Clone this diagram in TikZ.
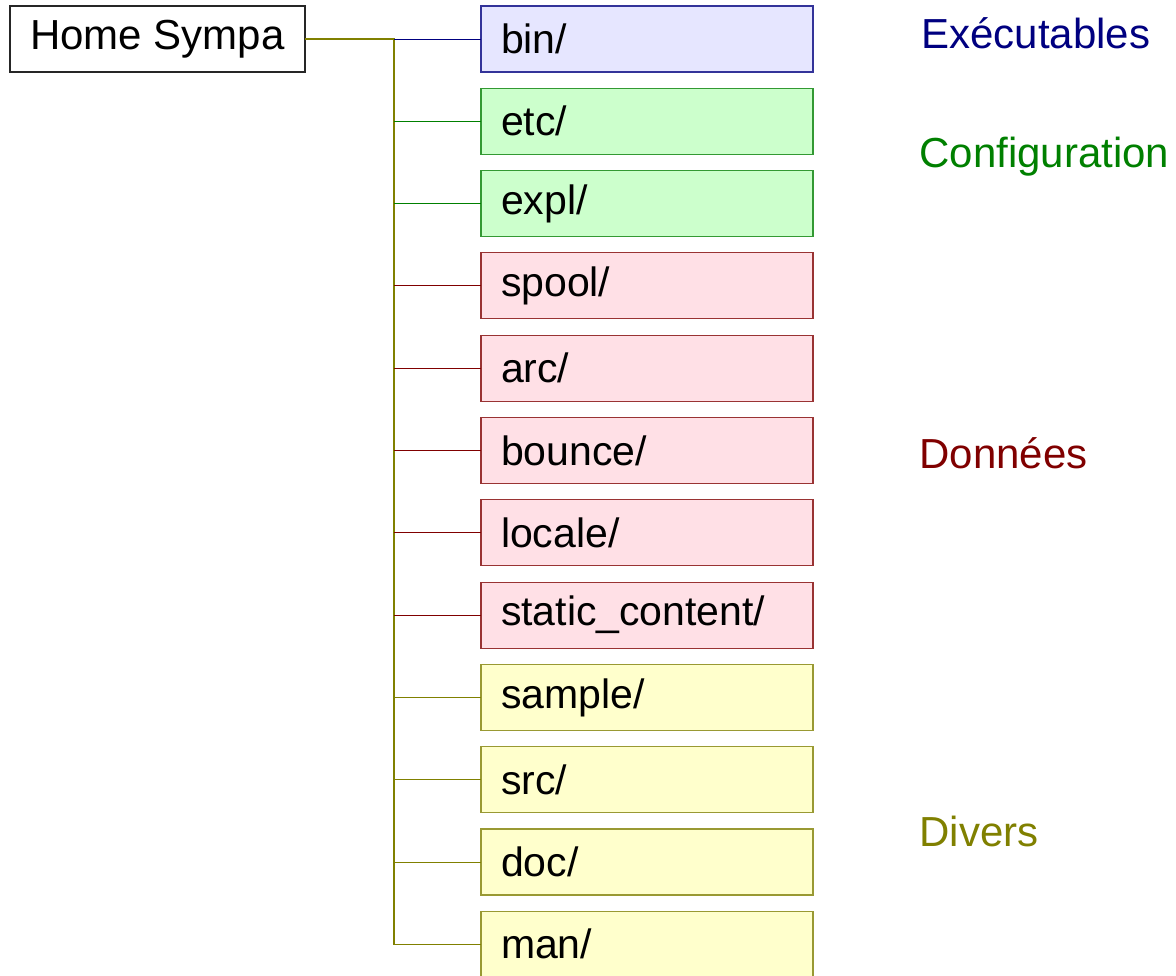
\documentclass[tikz,border=0pt]{standalone}
\usepackage{fontspec}
\setmainfont{Liberation Sans}
\usetikzlibrary{positioning}

\definecolor{bleu}{HTML}{000080}
\definecolor{vert}{HTML}{008000}
\definecolor{rouge}{HTML}{800000}
\definecolor{olive}{HTML}{808000}
\definecolor{fondbleu}{HTML}{E6E6FF}
\definecolor{fondvert}{HTML}{CCFFCC}
\definecolor{fondrouge}{HTML}{FFE0E6}
\definecolor{fondjaune}{HTML}{FFFFCC}

\tikzset{
  rep/.style={rectangle, minimum width=332pt, minimum height=66pt, inner xsep=20pt, outer sep=0pt,
    text width=292pt, align=left, line width=1.2pt, font=\fontsize{41}{48}\selectfont},
  exe/.style={rep, draw=bleu!80, fill=fondbleu},
  conf/.style={rep, draw=vert!80, fill=fondvert},
  data/.style={rep, draw=rouge!80, fill=fondrouge},
  divers/.style={rep, draw=olive!80, fill=fondjaune},
  groupe/.style={anchor=west, font=\fontsize{42}{48}\selectfont}
}

\begin{document}
\begin{tikzpicture}[x=1pt, y=1pt, node distance=16.3pt]
          \useasboundingbox (0,0) rectangle (1176,-976);
          \node[draw=black!85, line width=1.3pt, outer sep=0pt, minimum width=295pt, minimum height=66pt,
                font=\fontsize{42}{48}\selectfont, anchor=north west] (home) at (10,-6) {Home Sympa};
          \node[exe, anchor=north west] (bin) at (481,-6) {bin/};
          \node[conf] (etc) [below=of bin] {etc/};
          \node[conf] (expl) [below=of etc] {expl/};
          \node[data] (spool) [below=of expl] {spool/};
          \node[data] (arc) [below=of spool] {arc/};
          \node[data] (bounce) [below=of arc] {bounce/};
          \node[data] (locale) [below=of bounce] {locale/};
          \node[data] (static) [below=of locale] {static\_content/};
          \node[divers] (sample) [below=of static] {sample/};
          \node[divers] (src) [below=of sample] {src/};
          \node[divers] (doc) [below=of src] {doc/};
          \node[divers] (man) [below=of doc] {man/};

          \node[groupe, text=bleu] (lexe) at (918,-33) {Exécutables};
          \node[groupe, text=vert] (lconf) at (916,-157) {Configuration};
          \node[groupe, text=rouge] (ldata) at (916,-453) {Données};
          \node[groupe, text=olive] (ldivers) at (916,-831) {Divers};

          % tronc commun
          \coordinate (tronc) at (394,-39);
          \draw[olive, line width=1.2pt] (home.east) -- (tronc) -- (tronc |- man.west) -- (man.west);
          \draw[bleu, line width=0.8pt] (tronc) -- (bin.west);
          \foreach \r in {etc,expl}
            \draw[vert, line width=0.8pt] (tronc |- \r.west) -- (\r.west);
          \foreach \r in {spool,arc,bounce,locale,static}
            \draw[rouge, line width=0.8pt] (tronc |- \r.west) -- (\r.west);
          \foreach \r in {sample,src,doc}
            \draw[olive, line width=0.8pt] (tronc |- \r.west) -- (\r.west);
        \end{tikzpicture}
\end{document}
